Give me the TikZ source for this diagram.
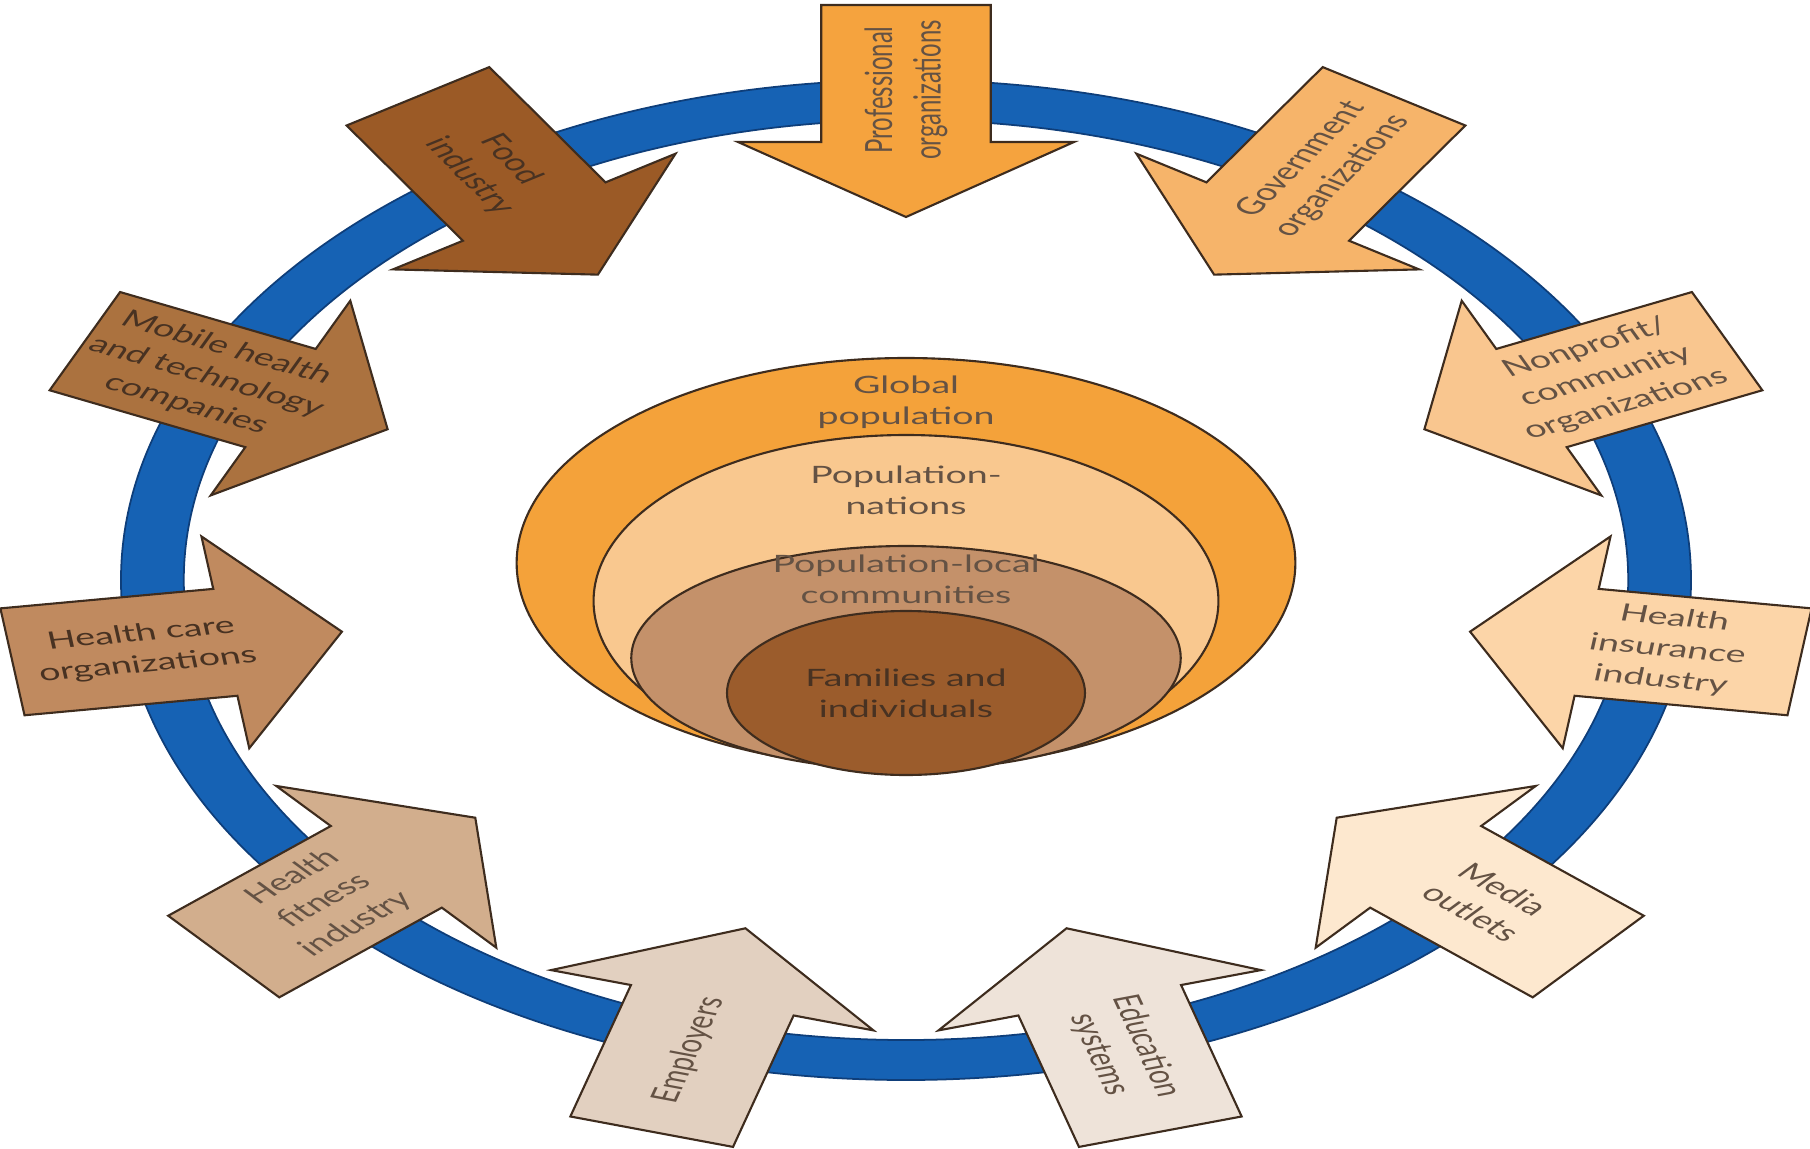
\documentclass[tikz,border=0pt]{standalone}
\usepackage{fontspec}
\setmainfont{Lato}
\definecolor{ringblue}{RGB}{22,98,180}
\definecolor{ringedge}{RGB}{14,62,122}
\definecolor{inkbrown}{RGB}{100,82,68}
\definecolor{inkdark}{RGB}{72,50,34}
\definecolor{edgebrown}{RGB}{62,44,30}
\definecolor{cprof}{RGB}{245,163,62}
\definecolor{cgov}{RGB}{246,180,106}
\definecolor{cnon}{RGB}{249,198,143}
\definecolor{cins}{RGB}{252,213,168}
\definecolor{cmedia}{RGB}{253,232,207}
\definecolor{cedu}{RGB}{238,227,217}
\definecolor{cemp}{RGB}{226,208,192}
\definecolor{cfit}{RGB}{210,174,141}
\definecolor{ccare}{RGB}{192,138,95}
\definecolor{cmob}{RGB}{171,114,63}
\definecolor{cfood}{RGB}{155,90,38}
\definecolor{eglobal}{RGB}{244,162,58}
\definecolor{enations}{RGB}{249,200,143}
\definecolor{elocal}{RGB}{196,145,106}
\definecolor{efamily}{RGB}{155,92,44}
\tikzset{
    actor label/.style={
        align=center,
        text=inkbrown,
        inner sep=1pt
    }
}

\begin{document}
\begin{tikzpicture}[x=0.01cm, y=0.01cm, font=\fontsize{6.8}{8.8}\selectfont]

    \tikzstyle{actor arrow} = [
        draw=edgebrown,
        line width=0.6pt,
        line join=miter
    ]
    \tikzstyle{level} = [
        draw=edgebrown,
        line width=0.6pt
    ]
    \tikzstyle{level label} = [
        align=center,
        text=inkbrown
    ]

    \useasboundingbox (-906,-568) rectangle (904,580);

    \begin{scope}[xscale=1.57, transform shape]

    % l'anneau bleu
    \fill[ringblue, draw=ringedge, line width=0.5pt, even odd rule]
        (0,0) circle [radius=500] (0,0) circle [radius=460];

    % les flèches autour de l'anneau
    \foreach \i/\col/\ink/\txt in {
        1/cprof/inkbrown/{Professional\\organizations},
        2/cgov/inkbrown/{Government\\organizations},
        3/cnon/inkbrown/{Nonprofit/\\community\\organizations},
        4/cins/inkbrown/{Health\\insurance\\industry},
        5/cmedia/inkbrown/{Media\\outlets},
        6/cedu/inkbrown/{Education\\systems},
        7/cemp/inkbrown/{Employers},
        8/cfit/inkbrown/{Health\\fitness\\industry},
        9/ccare/inkdark/{Health care\\organizations},
        10/cmob/inkdark/{Mobile health\\and technology\\companies},
        11/cfood/inkdark/{Food\\industry}} {
        \pgfmathsetmacro{\ang}{90-(\i-1)*360/11}
        \pgfmathsetmacro{\rot}{\ang<-90 ? \ang+180 : \ang}
        \draw[actor arrow, fill=\col, rotate=\ang]
            (575,54) -- (438,54) -- (438,107) -- (363,0)
            -- (438,-107) -- (438,-54) -- (575,-54) -- cycle;
        \node[actor label, text=\ink, rotate=\rot] (a\i) at (\ang:490) {\txt};
    }

    % les populations au centre
    \draw[level, fill=eglobal] (0,17) ellipse [x radius=248, y radius=205];
    \draw[level, fill=enations] (0,-21) ellipse [x radius=199, y radius=166];
    \draw[level, fill=elocal] (0,-78) ellipse [x radius=175, y radius=112];
    \draw[level, fill=efamily] (0,-113) ellipse [x radius=114, y radius=82];

    \node[level label] (global) at (0,178) {Global\\population};
    \node[level label] (nations) at (0,90) {Population-\\nations};
    \node[level label] (local) at (0,1) {Population-local\\communities};
    \node[level label, text=inkdark] (family) at (0,-113) {Families and\\individuals};

    \end{scope}

\end{tikzpicture}
\end{document}
